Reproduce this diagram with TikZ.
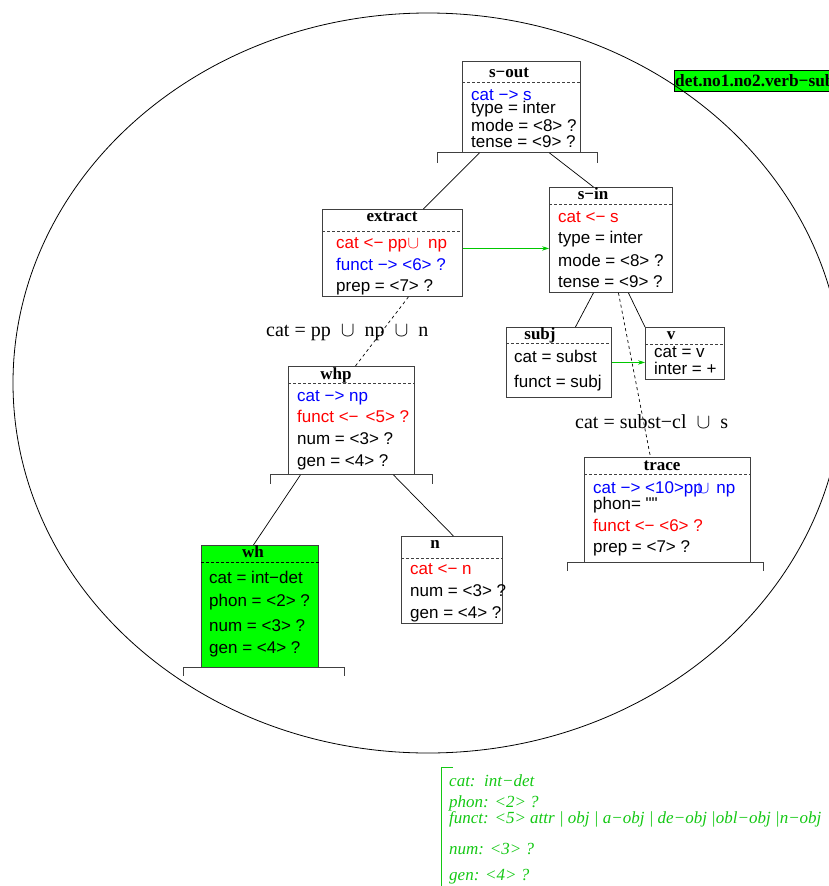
\documentclass[tikz,border=0pt]{standalone}
\usepackage{fontspec}
\setmainfont{Liberation Serif}
\newfontfamily\hvfam{Liberation Sans}
\newfontfamily\tmfam{Liberation Serif}
\usetikzlibrary{arrows.meta,calc}
\definecolor{cblue}{RGB}{0,0,255}
\definecolor{cred}{RGB}{255,0,0}
\definecolor{cgreen}{RGB}{0,255,0}
\definecolor{agreen}{RGB}{0,200,0}
\definecolor{tgreen}{RGB}{20,200,20}
\newcommand\rsBody{\hvfam\fontsize{17}{20}\selectfont}
\newcommand\rsHead{\tmfam\bfseries\fontsize{17}{20}\selectfont}
\newcommand\rsDet{\tmfam\bfseries\fontsize{17.3}{20}\selectfont}
\newcommand\rsLab{\tmfam\fontsize{20}{24}\selectfont}
\newcommand\rsNote{\tmfam\itshape\fontsize{17}{20}\selectfont}
\begin{document}
\begin{tikzpicture}[x=1pt,y=-1pt,
  fsbox/.style={draw=black!75, line width=0.9pt, inner sep=0pt, anchor=north west},
  sepline/.style={draw=black!75, line width=0.7pt, dash pattern=on 3pt off 2pt},
  ttl/.style={font=\rsHead, anchor=base, inner sep=0pt},
  txt/.style={font=\rsBody, anchor=base west, inner sep=0pt},
  lab/.style={font=\rsLab, anchor=base west, inner sep=0pt},
  note/.style={font=\rsNote, text=tgreen, anchor=base west, inner sep=0pt},
  conn/.style={line width=0.7pt},
  dconn/.style={line width=0.7pt, dash pattern=on 3pt off 3pt},
  garrow/.style={draw=agreen, line width=0.9pt, -{Stealth[length=7pt,width=4.5pt]}},
  brk/.style={draw=black!75, line width=0.9pt}]
\useasboundingbox (0,0) rectangle (829,886);
\clip (0,0) rectangle (829,886);

% green label (top right)
\node[fsbox, draw=black, fill=cgreen, minimum width=180, minimum height=21] (detbox) at (674,70) {};
\node[font=\rsDet, anchor=base west, inner sep=0pt] (dettext) at (675,86) {det.no1.no2.verb−sub};

% big ellipse
\draw[line width=0.8pt] (428,383) ellipse [x radius=415pt, y radius=370pt];

% boxes
\node[fsbox, minimum width=118, minimum height=91] (sout) at (462,61) {};
\node[fsbox, minimum width=140, minimum height=87] (extract) at (322,209) {};
\node[fsbox, minimum width=123, minimum height=105] (sin) at (549,187) {};
\node[fsbox, minimum width=126, minimum height=108] (whp) at (288,366) {};
\node[fsbox, minimum width=105, minimum height=70] (subj) at (506,327) {};
\node[fsbox, minimum width=79, minimum height=52] (v) at (645,327) {};
\node[fsbox, fill=cgreen, minimum width=117, minimum height=122] (wh) at (201,545) {};
\node[fsbox, minimum width=101, minimum height=87] (n) at (401,536) {};
\node[fsbox, minimum width=166, minimum height=105] (trace) at (584,457) {};

% separators
\draw[sepline] ([yshift=-21]sout.north west) -- ([yshift=-21]sout.north east);
\draw[sepline] ([yshift=-22]extract.north west) -- ([yshift=-22]extract.north east);
\draw[sepline] ([yshift=-17]sin.north west) -- ([yshift=-17]sin.north east);
\draw[sepline] ([yshift=-17]whp.north west) -- ([yshift=-17]whp.north east);
\draw[sepline] ([yshift=-16]subj.north west) -- ([yshift=-16]subj.north east);
\draw[sepline] ([yshift=-17]v.north west) -- ([yshift=-17]v.north east);
\draw[sepline, draw=black] ([yshift=-17]wh.north west) -- ([yshift=-17]wh.north east);
\draw[sepline] ([yshift=-22]n.north west) -- ([yshift=-22]n.north east);
\draw[sepline] ([yshift=-17]trace.north west) -- ([yshift=-17]trace.north east);

% brackets under some boxes
\draw[brk] ([xshift=-84]sout.south) ++(0,10) -- ++(0,-10) -- ++(160,0) -- ++(0,10);
\draw[brk] ([xshift=-81]whp.south) ++(0,9) -- ++(0,-9) -- ++(162,0) -- ++(0,9);
\draw[brk] ([xshift=-76.5]wh.south) ++(0,8) -- ++(0,-8) -- ++(161,0) -- ++(0,8);
\draw[brk] ([xshift=-100]trace.south) ++(0,8) -- ++(0,-8) -- ++(196,0) -- ++(0,8);

% connectors
\draw[conn] ([xshift=-42]sout.south) -- ([xshift=31]extract.north);
\draw[conn] ([xshift=28]sout.south) -- ([xshift=-17.5]sin.north);
\draw[dconn] ([xshift=16]extract.south) -- ([xshift=4]whp.north);
\draw[garrow] ([yshift=4.5]extract.east) -- ([yshift=4.5]extract.east -| sin.west);
\draw[conn] ([xshift=-17.5]sin.south) -- ([xshift=16.5]subj.north);
\draw[conn] ([xshift=17.5]sin.south) -- (v.north west);
\draw[dconn] ([xshift=7.5]sin.south) -- ([xshift=-17]trace.north);
\draw[garrow] (subj.east) -- (subj.east -| v.west);
\draw[conn] ([xshift=-51]whp.south) -- ([xshift=-6.5]wh.north);
\draw[conn] ([xshift=42]whp.south) -- ([xshift=1.5]n.north);

% titles
\node[ttl] (t-sout) at (509,77) {s−out};
\node[ttl] (t-extract) at (392,221) {extract};
\node[ttl] (t-sin) at (593,199.5) {s−in};
\node[ttl] (t-whp) at (336,379) {whp};
\node[ttl] (t-subj) at (540,339) {subj};
\node[ttl] (t-v) at (671,339) {v};
\node[ttl] (t-wh) at (253,557.5) {wh};
\node[ttl] (t-n) at (435,548.5) {n};
\node[ttl] (t-trace) at (662,470) {trace};

% s-out
\node[txt, text=cblue] (so1) at (471,100) {cat −> s};
\node[txt] (so2) at (471,113) {type = inter};
\node[txt] (so3) at (471,131) {mode = <8> ?};
\node[txt] (so4) at (471,147) {tense = <9> ?};
% extract
\node[txt, text=cred] (ex1) at (336,248) {cat <− pp\kern0.5pt$\cup$\hspace{9pt}np};
\node[txt, text=cblue] (ex2) at (336,270) {funct −> <6> ?};
\node[txt] (ex3) at (336,291) {prep = <7> ?};
% s-in
\node[txt, text=cred] (si1) at (558,222) {cat <− s};
\node[txt] (si2) at (558,243) {type = inter};
\node[txt] (si3) at (558,266) {mode = <8> ?};
\node[txt] (si4) at (558,287) {tense = <9> ?};
% whp
\node[txt, text=cblue] (wp1) at (297,401) {cat −> np};
\node[txt, text=cred] (wp2) at (297,422) {funct <−\hspace{7pt}<5> ?};
\node[txt] (wp3) at (297,444) {num = <3> ?};
\node[txt] (wp4) at (297,466) {gen = <4> ?};
% subj
\node[txt] (sj1) at (514,362) {cat = subst};
\node[txt] (sj2) at (514,387) {funct = subj};
% v
\node[txt] (v1) at (654,357) {cat = v};
\node[txt] (v2) at (654,374) {inter = +};
% wh
\node[txt] (wh1) at (209,583) {cat = int−det};
\node[txt] (wh2) at (209,606) {phon = <2> ?};
\node[txt] (wh3) at (209,631) {num = <3> ?};
\node[txt] (wh4) at (209,653) {gen = <4> ?};
% n
\node[txt, text=cred] (n1) at (410,574) {cat <− n};
\node[txt] (n2) at (410,596) {num = <3> ?};
\node[txt] (n3) at (410,618) {gen = <4> ?};
% trace
\node[txt, text=cblue] (tr1) at (593,493) {cat −> <10>pp\kern-5pt$\cup$\hspace{7pt}np};
\node[txt] (tr2) at (593,509) {phon= ""};
\node[txt, text=cred] (tr3) at (593,531) {funct <− <6> ?};
\node[txt] (tr4) at (593,552) {prep = <7> ?};

% edge labels
\node[lab] (lab1) at (266,336) {cat = pp\enspace$\cup$\enspace np\enspace$\cup$\enspace n};
\node[lab] (lab2) at (575,428) {cat = subst−cl\enspace$\cup$\enspace s};

% green note at the bottom
\draw[draw=tgreen, line width=0.9pt] (453,767) -- (441,767) -- (441,890);
\node[note] (nt1) at (449,786) {cat:\ \ int−det};
\node[note] (nt2) at (449,807) {phon: <2> ?};
\node[note] (nt3) at (449,823) {funct: <5> attr | obj | a−obj | de−obj |obl−obj |n−obj};
\node[note] (nt4) at (449,854) {num: <3> ?};
\node[note] (nt5) at (449,880) {gen: <4> ?};
\end{tikzpicture}
\end{document}
